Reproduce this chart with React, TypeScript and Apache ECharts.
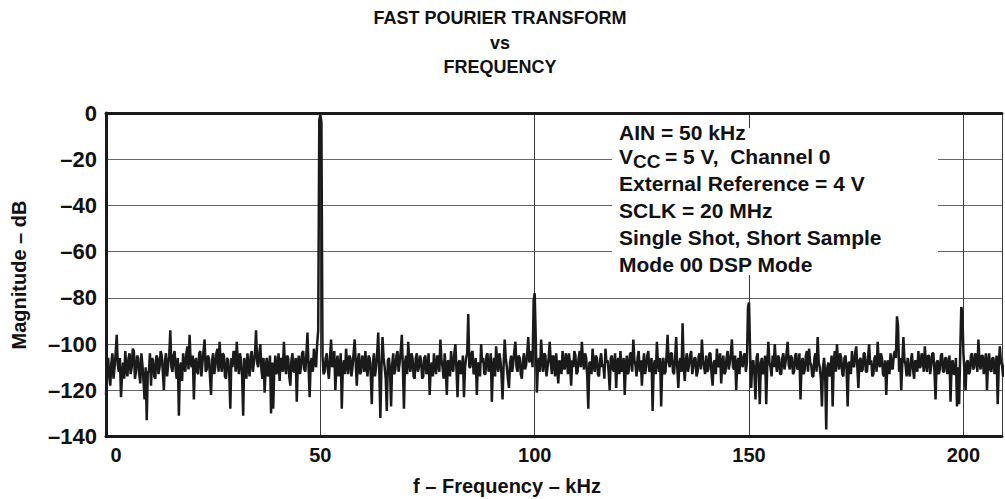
import React, { useEffect, useRef } from "react";
import * as echarts from "echarts";

// FFT magnitude (dB), 0.25 kHz bins, one array per 10 kHz span
const FREQ_STEP_KHZ = 0.25;
const SPAN_KHZ = 10;
const mag000 = [-122,-110,-106,-114,-118,-108,-104,-115,-110,-104,-96,-109,-112,-106,-123,-113,-108,-115,-103,-111,-114,-106,-104,-113,-110,-102,-103,-115,-112,-105,-106,-113,-117,-104,-109,-116,-124,-110,-133,-112];
const mag010 = [-112,-104,-118,-106,-107,-114,-115,-105,-106,-113,-110,-103,-105,-112,-120,-107,-104,-114,-109,-105,-94,-110,-112,-105,-103,-111,-115,-106,-131,-110,-108,-116,-104,-109,-112,-104,-101,-111,-96,-108];
const mag020 = [-110,-105,-124,-108,-106,-112,-113,-104,-103,-114,-108,-103,-98,-112,-111,-105,-106,-114,-122,-107,-104,-113,-110,-104,-102,-112,-99,-108,-112,-104,-105,-114,-115,-106,-107,-113,-128,-106,-110,-103];
const mag030 = [-104,-112,-99,-108,-113,-104,-107,-114,-131,-106,-109,-115,-104,-110,-114,-105,-103,-112,-108,-104,-94,-108,-110,-104,-100,-111,-115,-106,-121,-110,-106,-114,-112,-105,-130,-108,-128,-111,-105,-113];
const mag040 = [-111,-104,-116,-106,-107,-112,-99,-109,-113,-105,-106,-114,-118,-107,-104,-112,-112,-106,-125,-108,-105,-113,-110,-104,-103,-111,-112,-104,-95,-110,-123,-108,-106,-112,-102,-108,-110,-100,-94,-3];
const mag050 = [-1,-4,-105,-113,-112,-106,-104,-111,-115,-106,-98,-110,-108,-103,-120,-109,-105,-114,-111,-104,-128,-110,-107,-113,-102,-109,-113,-105,-106,-114,-110,-104,-98,-108,-118,-107,-104,-113,-112,-105];
const mag060 = [-107,-112,-103,-110,-114,-105,-106,-113,-126,-108,-104,-114,-110,-104,-95,-112,-132,-110,-97,-106,-110,-115,-129,-107,-106,-112,-127,-109,-104,-113,-111,-105,-103,-112,-108,-103,-96,-110,-128,-108];
const mag070 = [-105,-113,-99,-108,-112,-104,-106,-114,-115,-106,-104,-112,-110,-105,-107,-115,-114,-106,-105,-113,-111,-104,-122,-110,-108,-114,-104,-110,-113,-105,-106,-112,-98,-107,-110,-115,-104,-111,-122,-107];
const mag080 = [-108,-114,-103,-110,-112,-104,-100,-111,-123,-108,-107,-113,-111,-105,-123,-110,-106,-104,-87,-110,-110,-104,-103,-113,-112,-106,-122,-108,-109,-114,-100,-108,-106,-113,-113,-105,-104,-112,-110,-104];
const mag090 = [-125,-110,-106,-114,-101,-108,-112,-104,-107,-113,-124,-109,-98,-106,-110,-115,-119,-108,-105,-112,-108,-103,-99,-110,-112,-105,-106,-113,-115,-107,-104,-111,-109,-104,-97,-108,-106,-103,-110,-81];
const mag100 = [-78,-98,-121,-110,-106,-112,-98,-107,-112,-104,-105,-114,-110,-106,-99,-108,-113,-105,-106,-114,-104,-110,-117,-107,-109,-113,-103,-110,-111,-104,-106,-113,-104,-109,-118,-107,-110,-103,-105,-113];
const mag110 = [-112,-106,-103,-110,-99,-107,-111,-104,-106,-114,-128,-108,-108,-113,-102,-109,-112,-105,-106,-113,-114,-107,-104,-110,-109,-115,-102,-108,-107,-112,-120,-106,-105,-111,-112,-104,-119,-108,-106,-113];
const mag120 = [-103,-112,-110,-106,-122,-109,-105,-113,-111,-104,-104,-112,-98,-107,-109,-114,-106,-103,-112,-107,-118,-109,-104,-113,-110,-105,-103,-112,-111,-106,-129,-110,-107,-113,-99,-108,-112,-106,-127,-109];
const mag130 = [-106,-113,-112,-105,-96,-108,-110,-104,-104,-112,-113,-106,-97,-110,-119,-108,-106,-112,-91,-109,-116,-107,-104,-112,-109,-105,-103,-113,-110,-106,-106,-114,-112,-105,-104,-111,-98,-107,-110,-113];
const mag140 = [-105,-112,-111,-104,-104,-113,-118,-108,-107,-113,-102,-109,-110,-104,-117,-108,-105,-113,-112,-106,-103,-111,-108,-104,-98,-110,-111,-105,-120,-108,-106,-113,-103,-108,-110,-105,-104,-112,-108,-84];
const mag150 = [-82,-104,-119,-108,-107,-113,-124,-106,-104,-112,-126,-108,-106,-113,-111,-105,-126,-109,-99,-108,-110,-114,-105,-110,-100,-108,-112,-105,-106,-113,-113,-106,-104,-111,-108,-104,-99,-109,-111,-105];
const mag160 = [-106,-113,-112,-105,-104,-111,-110,-104,-124,-108,-106,-113,-111,-105,-103,-112,-102,-108,-109,-114,-114,-106,-104,-112,-97,-108,-110,-115,-127,-110,-106,-113,-137,-110,-108,-114,-112,-105,-127,-108];
const mag170 = [-103,-112,-100,-108,-111,-104,-106,-113,-114,-106,-105,-111,-127,-108,-108,-113,-103,-109,-110,-104,-101,-110,-119,-107,-106,-112,-111,-104,-104,-112,-112,-106,-100,-109,-107,-114,-113,-106,-105,-112];
const mag180 = [-99,-108,-110,-104,-106,-113,-114,-107,-122,-109,-107,-113,-104,-110,-111,-105,-103,-106,-88,-92,-112,-106,-120,-108,-97,-107,-109,-114,-106,-112,-114,-107,-104,-111,-115,-107,-108,-112,-103,-110];
const mag190 = [-110,-104,-106,-112,-101,-108,-112,-105,-105,-113,-109,-104,-104,-112,-124,-108,-107,-113,-111,-105,-104,-112,-112,-106,-106,-113,-110,-105,-125,-108,-107,-113,-113,-106,-127,-110,-126,-104,-84,-86];
const mag200 = [-104,-112,-120,-108,-107,-113,-112,-105,-104,-111,-110,-104,-106,-112,-98,-108,-111,-105,-105,-113,-108,-104,-120,-108,-104,-111,-112,-106,-106,-113,-110,-105,-126,-109,-101,-108,-109,-114,-113,-106];

const segments = [mag000, mag010, mag020, mag030, mag040, mag050, mag060, mag070, mag080, mag090, mag100,
  mag110, mag120, mag130, mag140, mag150, mag160, mag170, mag180, mag190, mag200];

const titleLines = ["FAST POURIER TRANSFORM", "vs", "FREQUENCY"];
const xAxisTitle = "f – Frequency – kHz";
const yAxisTitle = "Magnitude – dB";
const xTickValues = [0, 50, 100, 150, 200];
const noteLines = ["AIN = 50 kHz", "", "External Reference = 4 V", "SCLK = 20 MHz", "Single Shot, Short Sample", "Mode 00 DSP Mode"];

const FONT = "'Liberation Sans', Arial, Helvetica, sans-serif";

export default function App() {
  const ref = useRef<HTMLDivElement>(null);
  useEffect(() => {
    if (!ref.current) return;
    const chart = echarts.init(ref.current, undefined, { renderer: "svg" });
    const data = segments.flatMap((seg, k) => seg.map((v, i) => [k * SPAN_KHZ + i * FREQ_STEP_KHZ, v]));
    const noteY = [132, 156, 183.5, 210.5, 237, 264];
    const textStyle = { fontFamily: FONT, fontWeight: "bold", fill: "#111" };
    const graphics: any[] = [
      { type: "rect", z: 1, shape: { x: 612, y: 128, width: 326, height: 147 }, style: { fill: "#fff" } },
      ...titleLines.map((t, i) => ({
        type: "text", x: 500, y: 18 + i * 24.5,
        style: { ...textStyle, text: t, fontSize: 18, align: "center", verticalAlign: "middle" },
      })),
      { type: "text", x: 507, y: 486, style: { ...textStyle, text: xAxisTitle, fontSize: 20, align: "center", verticalAlign: "middle" } },
      { type: "text", x: 18.5, y: 275, rotation: Math.PI / 2, style: { ...textStyle, text: yAxisTitle, fontSize: 20, align: "center", verticalAlign: "middle" } },
      ...noteLines.map((t, i) => (t ? { type: "text", z: 5, x: 619, y: noteY[i], style: { ...textStyle, text: t, fontSize: 21, align: "left", verticalAlign: "middle" } } : null)).filter(Boolean),
      { type: "text", z: 5, x: 619, y: noteY[1], style: { ...textStyle, text: "V", fontSize: 21, align: "left", verticalAlign: "middle" } },
      { type: "text", z: 5, x: 633, y: noteY[1] + 5, style: { ...textStyle, text: "CC", fontSize: 19, lineHeight: 19, align: "left", verticalAlign: "middle" } },
      { type: "text", z: 5, x: 665, y: noteY[1], style: { ...textStyle, text: "= 5 V,  Channel 0", fontSize: 21, align: "left", verticalAlign: "middle" } },
    ];
    chart.setOption({
      animation: false,
      backgroundColor: "#fff",
      grid: { left: 106, right: 0, top: 113, bottom: 62.5, containLabel: false },
      xAxis: [
        {
          type: "value", min: 0, max: 209, interval: 50, position: "bottom",
          axisLine: { show: true, onZero: false, lineStyle: { color: "#1a1a1a", width: 3 } },
          axisTick: { show: false },
          splitLine: { show: true, lineStyle: { color: "#3a3a3a", width: 1 } },
          axisLabel: {
            margin: 8, fontFamily: FONT, fontWeight: "bold", fontSize: 20, color: "#111",
            formatter: (v: number) => (v === 0 ? "{z|0}" : xTickValues.includes(v) ? String(v) : ""),
            rich: { z: { fontFamily: FONT, fontWeight: "bold", fontSize: 20, color: "#111", padding: [0, 0, 0, 20] } },
          },
        },
        {
          type: "value", min: 0, max: 209, position: "top",
          axisLine: { show: true, onZero: false, lineStyle: { color: "#1a1a1a", width: 3 } },
          axisTick: { show: false }, axisLabel: { show: false }, splitLine: { show: false },
        },
      ],
      yAxis: {
        type: "value", min: -140, max: 0, interval: 20,
        axisLine: { show: true, onZero: false, lineStyle: { color: "#1a1a1a", width: 3 } },
        axisTick: { show: false },
        splitLine: { show: true, lineStyle: { color: "#666", width: 1.2 } },
        axisLabel: {
          margin: 9, fontFamily: FONT, fontWeight: "bold", fontSize: 22, color: "#111",
          formatter: (v: number) => (v < 0 ? "–" + String(-v) : String(v)),
        },
      },
      series: [
        {
          type: "line", xAxisIndex: 0, data, showSymbol: false, symbol: "none",
          lineStyle: { color: "#1a1a1a", width: 2.5 }, z: 3, clip: true,
        },
      ],
      graphic: graphics,
    });
    return () => chart.dispose();
  }, []);
  return <div ref={ref} style={{ position: "absolute", left: 0, top: 0, width: 1005, height: 499 }} />;
}
